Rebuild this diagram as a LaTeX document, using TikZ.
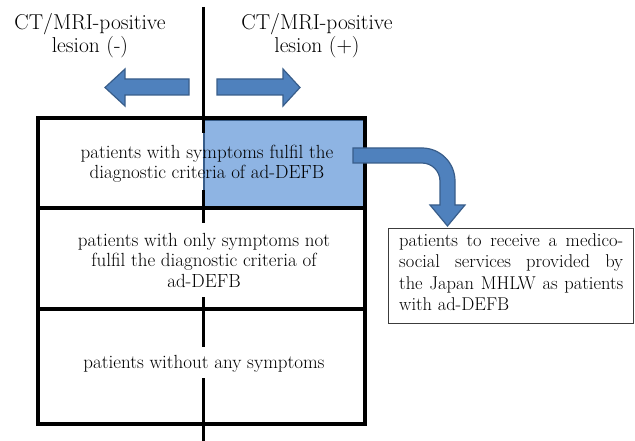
\documentclass[tikz,border=0pt]{standalone}
\usepackage{fontspec}
\setmainfont{Latin Modern Roman}
\usepackage{ragged2e}
\definecolor{arrowfill}{RGB}{79,129,189}
\definecolor{arrowline}{RGB}{56,93,138}
\definecolor{lightblue}{RGB}{142,180,227}
\definecolor{boxgray}{RGB}{60,60,60}
\begin{document}
\begin{tikzpicture}[x=1pt,y=-1pt,
  bigarrow/.style={fill=arrowfill,draw=arrowline,line width=1.2pt,line join=miter},
  frame/.style={draw=black,line width=3.1pt},
  divider/.style={draw=black,line width=3pt},
  rowtext/.style={align=center,font=\fontsize{19}{20.5}\selectfont,inner sep=0pt},
  headtext/.style={align=center,font=\fontsize{21.5}{23}\selectfont,inner sep=0pt}]
\useasboundingbox (0,0) rectangle (635,441);
% headers
\node[headtext] (hneg) at (90,36) {CT/MRI-positive\\lesion (-)};
\node[headtext] (hpos) at (317,36) {CT/MRI-positive\\lesion (+)};
% left/right arrows
\draw[bigarrow] (189,79) -- (125,79) -- (125,69) -- (105,87.5) -- (125,106) -- (125,95) -- (189,95) -- cycle;
\draw[bigarrow] (217,79) -- (283,79) -- (283,69) -- (300,87.5) -- (283,106) -- (283,95) -- (217,95) -- cycle;
% blue region
\draw[fill=lightblue,draw=arrowline,line width=1.5pt] (204,120) rectangle (364,207);
% vertical divider in pieces
\draw[divider] (203,7) -- (203,133);
\draw[divider] (203,190) -- (203,223);
\draw[divider] (203,297) -- (203,347);
\draw[divider] (203,378) -- (203,441);
% main frame
\draw[frame] (38,118) rectangle (365,424);
\draw[frame] (38,208) -- (365,208);
\draw[frame] (38,309) -- (365,309);
% row texts
\node[rowtext] (r1) at (207,164) {patients with symptoms fulfil the\\diagnostic criteria of ad-DEFB};
\node[rowtext] (r2) at (204,260) {patients with only symptoms not\\fulfil the diagnostic criteria of\\ad-DEFB};
\node[rowtext] (r3) at (204,364) {patients without any symptoms};
% curved arrow
\draw[bigarrow] (353,148) -- (422,148)
  .. controls (440.2,148) and (455,162.8) .. (455,181)
  -- (455,205) -- (465,205) -- (447.5,226) -- (430,205) -- (440,205) -- (440,181)
  .. controls (440,171.1) and (431.9,163) .. (422,163)
  -- (353,163) -- cycle;
% right box
\node[draw=boxgray,line width=0.8pt,minimum width=245pt,minimum height=95pt,inner sep=0pt,anchor=north west] (svc) at (388,228) {};
\node[anchor=north west,inner sep=0pt,font=\fontsize{18.5}{21.5}\selectfont] (svctext) at (399,233)
  {\parbox{224pt}{\justifying\noindent patients to receive a medico-\linebreak social services provided by\linebreak the Japan MHLW as patients\linebreak with ad-DEFB}};
\end{tikzpicture}
\end{document}
